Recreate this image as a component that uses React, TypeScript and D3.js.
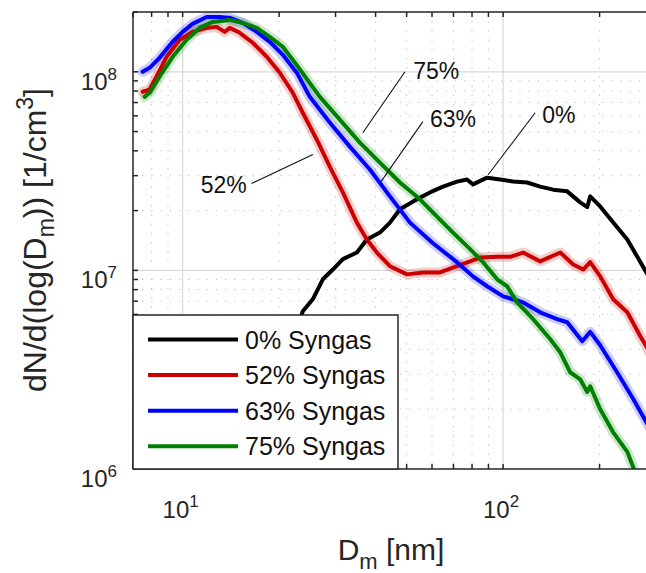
import React from "react";
import * as d3 from "d3";

// ---- data ----
const D_0 = [20.1, 21.6, 23.71, 25.47, 27.38, 29.42, 31.62, 34.97, 37.58, 41.27, 44.35, 47.66, 53.84, 59.12, 64.94, 71.78, 77.18, 80.55, 89.13, 97.9, 107.4, 118.9, 130.5, 143.3, 158.5, 174, 183, 187, 200.9, 220.6, 244.1, 262.3, 279.9, 295];
const N_0 = [2.25e6, 4.0e6, 6.22e6, 7.15e6, 9.02e6, 1.01e7, 1.14e7, 1.23e7, 1.43e7, 1.55e7, 1.74e7, 2.03e7, 2.28e7, 2.47e7, 2.64e7, 2.8e7, 2.87e7, 2.71e7, 2.93e7, 2.87e7, 2.8e7, 2.77e7, 2.64e7, 2.55e7, 2.5e7, 2.2e7, 2.08e7, 2.36e7, 2.1e7, 1.74e7, 1.43e7, 1.17e7, 9.77e6, 8.3e6];

const D_52 = [7.5, 7.89, 8.29, 8.91, 9.79, 10.74, 11.88, 12.77, 13.53, 14.03, 15.07, 16.55, 18.3, 20.1, 22.07, 23.71, 26.23, 28.78, 31.62, 34.97, 37.58, 40.37, 44.35, 50.12, 56.23, 63.53, 71.78, 78.89, 84.72, 95.79, 105.2, 115.5, 130.5, 150.8, 165.5, 177.8, 187, 200.9, 220.6, 244.1, 268, 279.9, 295];
const N_52 = [7.93e7, 8.12e7, 9.44e7, 1.19e8, 1.449e8, 1.588e8, 1.663e8, 1.683e8, 1.588e8, 1.663e8, 1.571e8, 1.4e8, 1.19e8, 9.89e7, 7.84e7, 6.22e7, 4.55e7, 3.33e7, 2.47e7, 1.74e7, 1.43e7, 1.23e7, 1.05e7, 9.55e6, 9.77e6, 9.77e6, 1.05e7, 1.11e7, 1.16e7, 1.17e7, 1.17e7, 1.23e7, 1.11e7, 1.23e7, 1.07e7, 1.01e7, 1.1e7, 9.33e6, 7.15e6, 6.15e6, 4.66e6, 4.15e6, 3.5e6];

const D_63 = [7.5, 7.89, 8.47, 9.31, 10, 10.74, 11.88, 13.05, 14.03, 15.4, 17.03, 18.7, 20.54, 22.71, 24.94, 28.78, 33.24, 38.4, 44.35, 51.22, 60.42, 71.78, 80.55, 89.13, 100, 115.5, 130.5, 147.5, 158.5, 176.6, 187, 200.9, 226.8, 254.8, 279.9, 295];
const N_63 = [1.0e8, 1.047e8, 1.176e8, 1.416e8, 1.588e8, 1.742e8, 1.889e8, 1.889e8, 1.868e8, 1.762e8, 1.588e8, 1.416e8, 1.217e8, 9.9e7, 7.48e7, 5.55e7, 4.2e7, 3.22e7, 2.36e7, 1.74e7, 1.37e7, 1.1e7, 9.33e6, 8.32e6, 7.4e6, 6.9e6, 6.15e6, 5.68e6, 5.48e6, 4.4e6, 4.9e6, 4.2e6, 3.07e6, 2.25e6, 1.72e6, 1.5e6];

const D_75 = [7.61, 7.89, 8.47, 9.31, 10.29, 11.3, 12.41, 14.03, 15.4, 17.03, 18.7, 20.54, 22.71, 26.8, 30.94, 35.73, 41.27, 47.66, 55.04, 63.53, 69.77, 78.89, 86.6, 95.79, 102.9, 110.6, 124.1, 140.4, 150.8, 161.9, 174, 183, 187, 200.9, 220.6, 244.1, 254.8, 265];
const N_75 = [7.48e7, 7.84e7, 9.44e7, 1.19e8, 1.449e8, 1.663e8, 1.783e8, 1.825e8, 1.762e8, 1.663e8, 1.5e8, 1.337e8, 1.08e8, 7.48e7, 5.74e7, 4.4e7, 3.49e7, 2.77e7, 2.28e7, 1.8e7, 1.55e7, 1.28e7, 1.1e7, 9.02e6, 8.32e6, 6.9e6, 5.68e6, 4.5e6, 3.87e6, 3.07e6, 2.83e6, 2.44e6, 2.61e6, 2.0e6, 1.53e6, 1.22e6, 1.02e6, 8.5e5];

const SERIES_NAMES = ["0% Syngas", "52% Syngas", "63% Syngas", "75% Syngas"];
const SERIES_COLORS = ["#000000", "#cc0000", "#0000ff", "#008000"];
const SERIES_BANDS = [false, true, true, true];

const X_MAJOR = [10, 100];
const X_MAJOR_EXP = ["1", "2"];
const Y_MAJOR = [1e6, 1e7, 1e8];
const Y_MAJOR_EXP = ["6", "7", "8"];

// annotations: label text, line from [D,N] to [D,N], label anchor [D,N]
const ANN_TEXT = ["75%", "63%", "0%", "52%"];
const ANN_FROM = [[49.4, 1e8], [56.2, 5.61e7], [125.9, 6.22e7], [16.4, 2.74e7]];
const ANN_TO = [[36.5, 4.93e7], [41.6, 2.8e7], [89.8, 3.03e7], [25.5, 3.83e7]];
const ANN_LABEL = [[52.4, 9.2e7], [59.1, 5.3e7], [132.5, 5.55e7], [15.85, 2.44e7]];
const ANN_ANCHOR = ["start", "start", "start", "end"];

const W = 646;
const H = 573;
const FONT = "'Liberation Sans', Arial, Helvetica, sans-serif";

export default function App() {
  const x = d3.scaleLog().domain([7, 300]).range([133, 656]);
  const y = d3.scaleLog().domain([1e6, 2e8]).range([469, 12]);
  const [x0, x1] = x.range();
  const [yb, yt] = y.range();

  const xMinor: number[] = [];
  for (const dec of [1, 10, 100]) for (let k = 1; k <= 9; k++) {
    const v = dec * k;
    if (v >= 7 && v <= 300) xMinor.push(v);
  }
  const yMinor: number[] = [];
  for (const dec of [1e6, 1e7, 1e8]) for (let k = 1; k <= 9; k++) {
    const v = dec * k;
    if (v >= 1e6 && v <= 2e8) yMinor.push(v);
  }

  const allD = [D_0, D_52, D_63, D_75];
  const allN = [N_0, N_52, N_63, N_75];
  const paths = allD.map((Ds, s) => {
    const pts = Ds.map((d, i) => [d, allN[s][i]] as [number, number]);
    return d3.line<[number, number]>().x((p) => x(p[0])).y((p) => y(p[1]))(pts) || "";
  });

  const axisColor = "#262626";
  const tickLen = 5;

  return (
    <svg width={W} height={H} style={{ position: "absolute", left: 0, top: 0, background: "#fff" }} fontFamily={FONT}>
      <defs>
        <clipPath id="plotclip">
          <rect x={x0} y={yt} width={x1 - x0} height={yb - yt} />
        </clipPath>
      </defs>
      <rect x={0} y={0} width={W} height={H} fill="#fff" />
      {/* minor grid */}
      <g stroke="#9a9a9a" strokeWidth={1} strokeDasharray="1.2,8" opacity={0.65}>
        {xMinor.filter((v) => !X_MAJOR.includes(v)).map((v) => (
          <line key={"gx" + v} x1={x(v)} x2={x(v)} y1={yt} y2={yb} />
        ))}
        {yMinor.filter((v) => !Y_MAJOR.includes(v)).map((v) => (
          <line key={"gy" + v} x1={x0} x2={x1} y1={y(v)} y2={y(v)} />
        ))}
      </g>
      {/* major grid */}
      <g stroke="#d9d9d9" strokeWidth={1.2}>
        {X_MAJOR.map((v) => (
          <line key={"Gx" + v} x1={x(v)} x2={x(v)} y1={yt} y2={yb} />
        ))}
        {Y_MAJOR.filter((v) => v > 1e6).map((v) => (
          <line key={"Gy" + v} x1={x0} x2={x1} y1={y(v)} y2={y(v)} />
        ))}
      </g>
      {/* curves */}
      <g clipPath="url(#plotclip)" fill="none" strokeLinejoin="round" strokeLinecap="round">
        {paths.map((p, i) =>
          SERIES_BANDS[i] ? (
            <path key={"b" + i} d={p} stroke={SERIES_COLORS[i]} strokeOpacity={0.2} strokeWidth={10} />
          ) : null
        )}
        {paths.map((p, i) => (
          <path key={"l" + i} d={p} stroke={SERIES_COLORS[i]} strokeWidth={4} />
        ))}
      </g>
      {/* axes box and ticks */}
      <g stroke={axisColor} strokeWidth={1.5}>
        <line x1={x0} x2={x1} y1={yt} y2={yt} />
        <line x1={x0} x2={x1} y1={yb} y2={yb} />
        <line x1={x0} x2={x0} y1={yt} y2={yb} />
        {xMinor.map((v) => (
          <g key={"tx" + v}>
            <line x1={x(v)} x2={x(v)} y1={yt} y2={yt + tickLen} />
            <line x1={x(v)} x2={x(v)} y1={yb} y2={yb - tickLen} />
          </g>
        ))}
        {yMinor.map((v) => (
          <line key={"ty" + v} x1={x0} x2={x0 + tickLen} y1={y(v)} y2={y(v)} />
        ))}
      </g>
      {/* tick labels */}
      <g fill={axisColor} fontSize={24}>
        {Y_MAJOR.map((v, i) => (
          <text key={"ly" + v} x={x0 - 16} y={y(v) + 18} textAnchor="end">
            10<tspan dy={-10} fontSize={17}>{Y_MAJOR_EXP[i]}</tspan>
          </text>
        ))}
        {X_MAJOR.map((v, i) => (
          <text key={"lx" + v} x={x(v) - 2} y={yb + 49} textAnchor="middle">
            10<tspan dy={-11} fontSize={17}>{X_MAJOR_EXP[i]}</tspan>
          </text>
        ))}
      </g>
      {/* axis labels */}
      <text x={391} y={560} textAnchor="middle" fontSize={30} fill={axisColor}>
        D<tspan dy={9} fontSize={22}>m</tspan>
        <tspan dy={-9}> [nm]</tspan>
      </text>
      <text transform="translate(46,240) rotate(-90)" textAnchor="middle" fontSize={32} fill={axisColor}>
        dN/d(log(D<tspan dy={8} fontSize={23}>m</tspan>
        <tspan dy={-8}>)) [1/cm</tspan>
        <tspan dy={-13} fontSize={23}>3</tspan>
        <tspan dy={13}>]</tspan>
      </text>
      {/* annotations */}
      <g>
        {ANN_TEXT.map((t, i) => (
          <g key={"a" + i}>
            <line x1={x(ANN_FROM[i][0])} y1={y(ANN_FROM[i][1])} x2={x(ANN_TO[i][0])} y2={y(ANN_TO[i][1])} stroke="#111" strokeWidth={1.1} />
            <text x={x(ANN_LABEL[i][0])} y={y(ANN_LABEL[i][1])} textAnchor={ANN_ANCHOR[i] as any} fontSize={23} fill="#111">
              {t}
            </text>
          </g>
        ))}
      </g>
      {/* legend */}
      <g>
        <rect x={x0} y={315} width={265} height={yb - 315} fill="#fff" stroke={axisColor} strokeWidth={1.5} />
        {SERIES_NAMES.map((n, i) => {
          const cy = 339.5 + i * 35.6;
          return (
            <g key={"lg" + i}>
              <line x1={148} x2={238} y1={cy} y2={cy} stroke={SERIES_COLORS[i]} strokeWidth={4} />
              <text x={245} y={cy + 9} fontSize={25} fill="#111">
                {n}
              </text>
            </g>
          );
        })}
      </g>
    </svg>
  );
}
